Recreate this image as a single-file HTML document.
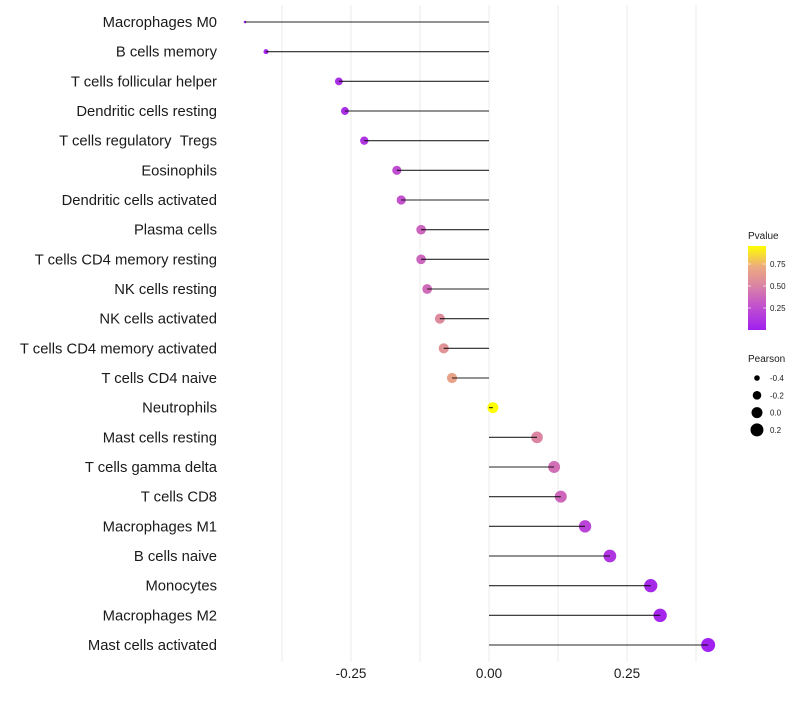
<!DOCTYPE html>
<html><head><meta charset="utf-8"><style>
body{margin:0;background:#fff;font-family:"Liberation Sans",sans-serif}
svg text{font-family:"Liberation Sans",sans-serif}
</style></head><body>
<svg id="chart" width="800" height="700" xmlns="http://www.w3.org/2000/svg"></svg>
<script>
const categories=["Macrophages M0","B cells memory","T cells follicular helper","Dendritic cells resting","T cells regulatory \u00a0Tregs","Eosinophils","Dendritic cells activated","Plasma cells","T cells CD4 memory resting","NK cells resting","NK cells activated","T cells CD4 memory activated","T cells CD4 naive","Neutrophils","Mast cells resting","T cells gamma delta","T cells CD8","Macrophages M1","B cells naive","Monocytes","Macrophages M2","Mast cells activated"];
const pearson=[-0.442,-0.404,-0.272,-0.261,-0.226,-0.167,-0.159,-0.123,-0.123,-0.112,-0.089,-0.082,-0.067,0.007,0.087,0.118,0.130,0.174,0.219,0.293,0.310,0.397];
const pvalue=[0.01,0.05,0.08,0.08,0.12,0.25,0.28,0.37,0.37,0.4,0.55,0.6,0.68,0.97,0.52,0.42,0.38,0.2,0.12,0.05,0.04,0.01];
const xTicks=[-0.25,0,0.25];
const xTickLabels=["-0.25","0.00","0.25"];
const pTicks=[0.25,0.5,0.75];
const pTickLabels=["0.25","0.50","0.75"];
const sizeLegend=[-0.4,-0.2,0.0,0.2];
const sizeLegendLabels=["-0.4","-0.2","0.0","0.2"];

const NS="http://www.w3.org/2000/svg";
const svg=document.getElementById('chart');
function mk(t,a,p){const e=document.createElementNS(NS,t);for(const k in a)e.setAttribute(k,a[k]);(p||svg).appendChild(e);return e;}
const x=v=>489+v*552;
const y=i=>22+i*(623/21);
const pmin=Math.min(...pearson),pmax=Math.max(...pearson);
const r=v=>{const t=Math.max(0,(v-pmin)/(pmax-pmin));return 1.3+5.7*Math.sqrt(t);};
function lerp(a,b,t){return a.map((c,i)=>Math.round(c+(b[i]-c)*t));}
const stops=[[0,[160,32,240]],[0.3,[196,84,204]],[0.55,[220,136,160]],[0.75,[236,170,128]],[1,[255,255,0]]];
function col(p){p=Math.max(0,Math.min(1,p/0.97));for(let i=0;i<stops.length-1;i++){if(p<=stops[i+1][0]){const t=(p-stops[i][0])/(stops[i+1][0]-stops[i][0]);return 'rgb('+lerp(stops[i][1],stops[i+1][1],t).join(',')+')';}}return 'rgb(255,255,0)';}

const grid=mk('g',{});
for(let v=-0.375;v<=0.45;v+=0.125){const g=mk('line',{x1:x(v),x2:x(v),y1:5,y2:662,stroke:'#ebebeb','stroke-width':1},grid);}

categories.forEach((c,i)=>{
  const t=mk('text',{x:217,y:y(i)+5,'text-anchor':'end','font-size':14.8,fill:'#1a1a1a'});t.textContent=c;
  
  const d=mk('circle',{cx:x(pearson[i]),cy:y(i),r:r(pearson[i]),fill:col(pvalue[i])});
  
  const l=mk('line',{x1:x(0),x2:x(pearson[i]),y1:y(i),y2:y(i),stroke:'#000','stroke-width':1.1,'stroke-opacity':0.85});
  
});
xTicks.forEach((v,i)=>{const t=mk('text',{x:x(v),y:678,'text-anchor':'middle','font-size':13.5,fill:'#1a1a1a'});t.textContent=xTickLabels[i];});

const lg=mk('g',{});
const tt=mk('text',{x:748,y:239,'font-size':10,fill:'#1a1a1a'},lg);tt.textContent='Pvalue';
const defs=mk('defs',{});const grad=mk('linearGradient',{id:'pg',x1:0,y1:1,x2:0,y2:0},defs);
[[0,'#a020f0'],[0.3,'#c454cc'],[0.55,'#dc88a0'],[0.75,'#ecaa80'],[1,'#ffff00']].forEach(s=>mk('stop',{offset:s[0],'stop-color':s[1]},grad));
const bar=mk('rect',{x:748,y:246,width:18,height:84,fill:'url(#pg)'},lg);
const py=p=>330-p*88;
pTicks.forEach((p,i)=>{mk('line',{x1:748,x2:751,y1:py(p),y2:py(p),stroke:'#fff','stroke-opacity':0.6},lg);mk('line',{x1:763,x2:766,y1:py(p),y2:py(p),stroke:'#fff','stroke-opacity':0.6},lg);const t=mk('text',{x:770,y:py(p)+3,'font-size':8,fill:'#1a1a1a'},lg);t.textContent=pTickLabels[i];});

const sg=mk('g',{});
const st=mk('text',{x:748,y:362,'font-size':10,fill:'#1a1a1a'},sg);st.textContent='Pearson';
const legR=[2.8,4.3,5.5,6.5];
sizeLegend.forEach((v,i)=>{const cy=378+i*17.3;const c=mk('circle',{cx:757,cy:cy,r:legR[i],fill:'#000'},sg);const t=mk('text',{x:770,y:cy+3,'font-size':8,fill:'#1a1a1a'},sg);t.textContent=sizeLegendLabels[i];});
</script>
</body></html>
